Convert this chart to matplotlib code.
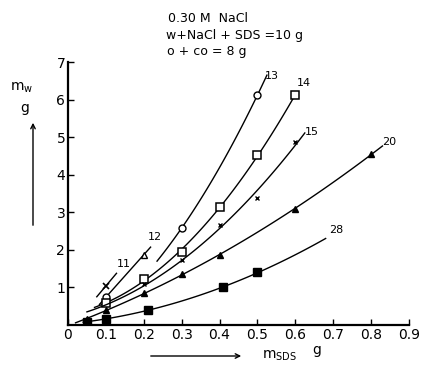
import numpy as np
import matplotlib
matplotlib.use("Agg")
import matplotlib.pyplot as plt

# ---- data ----
x11 = [0.10]; y11 = [1.04]
x12 = [0.10, 0.20]; y12 = [0.74, 1.87]
x13 = [0.10, 0.30, 0.50]; y13 = [0.75, 2.58, 6.12]
x14 = [0.10, 0.20, 0.30, 0.40, 0.50, 0.60]; y14 = [0.58, 1.22, 1.95, 3.14, 4.52, 6.12]
x15 = [0.20, 0.30, 0.40, 0.50, 0.60]; y15 = [1.08, 1.73, 2.67, 3.38, 4.88]
x20 = [0.05, 0.10, 0.20, 0.30, 0.40, 0.60, 0.80]; y20 = [0.15, 0.40, 0.85, 1.35, 1.87, 3.08, 4.55]
x28 = [0.05, 0.10, 0.21, 0.41, 0.50]; y28 = [0.08, 0.17, 0.40, 1.00, 1.40]
# start of the drawn curve for series 13
x13_start = 0.235; y13_start = 1.70
xticks = [0, 0.1, 0.2, 0.3, 0.4, 0.5, 0.6, 0.7, 0.8, 0.9]
xticklabels = ["0", "0.1", "0.2", "0.3", "0.4", "0.5", "0.6", "0.7", "0.8", "0.9"]
yticks = [1, 2, 3, 4, 5, 6, 7]

fig = plt.figure(figsize=(4.21, 3.67), dpi=100)
ax = fig.add_axes([0.1615, 0.1144, 0.81, 0.7166])
ax.set_xlim(0, 0.9)
ax.set_ylim(0, 7)
for s in ["top", "right"]:
    ax.spines[s].set_visible(False)
for s in ["left", "bottom"]:
    ax.spines[s].set_linewidth(1.6)

lw = 1.0
k = "black"

def curve(xs, ys, x0, x1, deg=2):
    p = np.polyfit(xs, ys, deg)
    xx = np.linspace(x0, x1, 100)
    yy = np.polyval(p, xx)
    return xx, np.clip(yy, 0, None)

# 11: short segment through the point
xx = np.linspace(0.076, 0.128, 10)
ax.plot(xx, y11[0] + 12 * (xx - x11[0]), color=k, lw=lw)
ax.plot(x11, y11, 'x', color=k, ms=4, mew=1.2)
# 12
p12 = np.polyfit(x12, y12, 1)
xx = np.linspace(0.083, 0.218, 20)
ax.plot(xx, np.polyval(p12, xx), color=k, lw=lw)
ax.plot(x12, y12, '^', mfc='white', mec=k, ms=5)
# 13
xx, yy = curve([x13_start] + x13[1:], [y13_start] + y13[1:], 0.235, 0.525)
ax.plot(xx, yy, color=k, lw=lw)
ax.plot(x13, y13, 'o', mfc='white', mec=k, ms=5)
# 14
xx, yy = curve(x14, y14, 0.07, 0.6)
ax.plot(xx, yy, color=k, lw=lw)
ax.plot(x14, y14, 's', mfc='white', mec=k, ms=5.5, mew=1.1)
# 15
xx, yy = curve(x15 + [0.1], y15 + [0.5], 0.05, 0.625)
ax.plot(xx, yy, color=k, lw=lw)
ax.plot(x15, y15, 'x', color=k, ms=3.5, mew=1.0)
# 20
xx, yy = curve(x20, y20, 0.02, 0.83)
ax.plot(xx, yy, color=k, lw=lw)
ax.plot(x20, y20, '^', color=k, ms=5)
# 28
xx, yy = curve(x28, y28, 0.04, 0.68)
ax.plot(xx, yy, color=k, lw=lw)
ax.plot(x28, y28, 's', color=k, ms=5.5)

fs_lab = 8
ax.text(0.13, 1.55, "11", fontsize=fs_lab, ha='left')
ax.text(0.21, 2.25, "12", fontsize=fs_lab, ha='left')
ax.text(0.52, 6.55, "13", fontsize=fs_lab, ha='left')
ax.text(0.605, 6.35, "14", fontsize=fs_lab, ha='left')
ax.text(0.625, 5.05, "15", fontsize=fs_lab, ha='left')
ax.text(0.83, 4.8, "20", fontsize=fs_lab, ha='left')
ax.text(0.69, 2.45, "28", fontsize=fs_lab, ha='left')

ax.set_xticks(xticks)
ax.set_xticklabels(xticklabels)
ax.set_yticks(yticks)
ax.tick_params(direction='in', length=4, width=1, labelsize=10, pad=2)

# title block
fig.text(168 / 421, 1 - 18 / 367, "0.30 M  NaCl", fontsize=9, va='center', ha='left')
fig.text(166 / 421, 1 - 35 / 367, "w+NaCl + SDS =10 g", fontsize=9, va='center', ha='left')
fig.text(167 / 421, 1 - 52 / 367, "o + co = 8 g", fontsize=9, va='center', ha='left')

# axis labels with arrows
fig.text(22 / 421, 1 - 88 / 367, r"m$_\mathrm{w}$", fontsize=10, ha='center', va='center')
fig.text(25 / 421, 1 - 108 / 367, "g", fontsize=10, ha='center', va='center')
fig.add_artist(matplotlib.patches.FancyArrowPatch((33 / 421, 1 - 228 / 367), (33 / 421, 1 - 120 / 367),
               transform=fig.transFigure, arrowstyle='->', mutation_scale=8, lw=1, color=k))
fig.add_artist(matplotlib.patches.FancyArrowPatch((148 / 421, 1 - 356 / 367), (244 / 421, 1 - 356 / 367),
               transform=fig.transFigure, arrowstyle='->', mutation_scale=8, lw=1, color=k))
fig.text(262 / 421, 1 - 356 / 367, r"m$_\mathrm{SDS}$", fontsize=10, ha='left', va='center')
fig.text(312 / 421, 1 - 350 / 367, "g", fontsize=10, ha='left', va='center')

fig.savefig("out.png", dpi=100)
